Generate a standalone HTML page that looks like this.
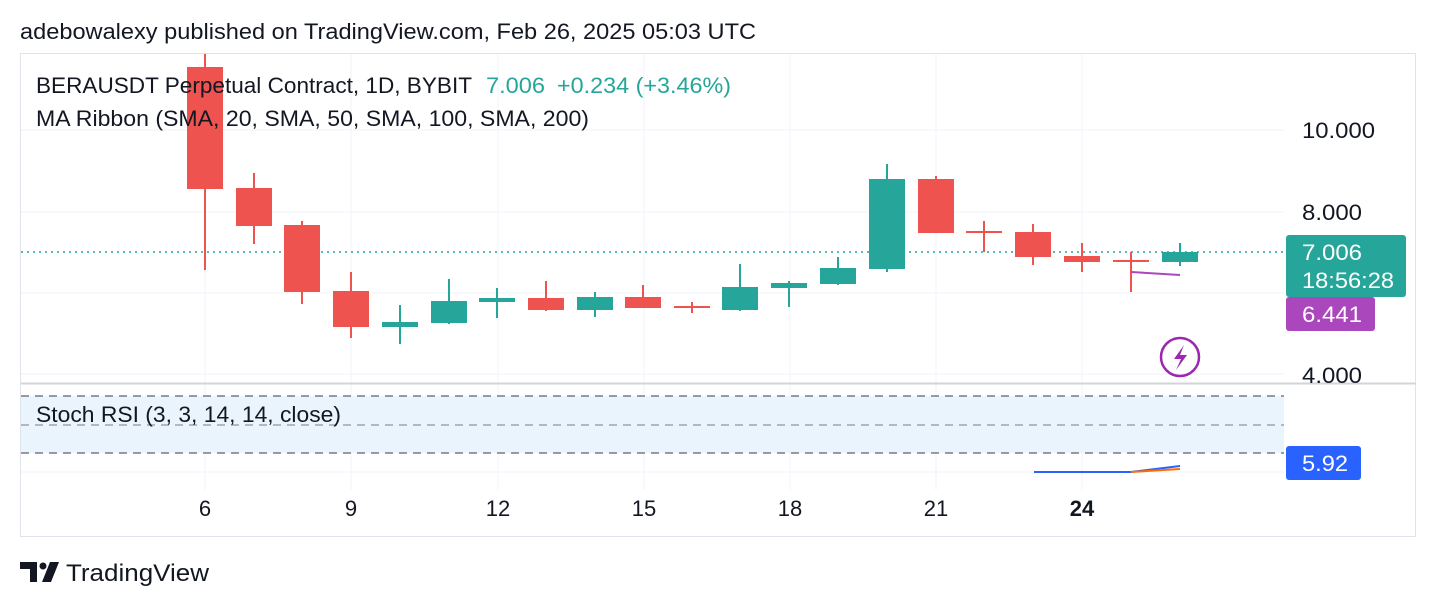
<!DOCTYPE html>
<html><head><meta charset="utf-8"><style>
body{margin:0;background:#fff;width:1436px;height:606px;overflow:hidden;font-family:"Liberation Sans",Arial,sans-serif}
</style></head><body>
<svg width="1436" height="606" xmlns="http://www.w3.org/2000/svg" font-family="Liberation Sans, Arial, sans-serif">
<text x="20" y="39" font-size="22" fill="#131722" textLength="736" lengthAdjust="spacingAndGlyphs">adebowalexy published on TradingView.com, Feb 26, 2025 05:03 UTC</text>
<rect x="20.5" y="53.5" width="1395" height="483" fill="none" stroke="#e0e3eb"/>
<g stroke="#f0f3fa" stroke-width="1">
<line x1="21" y1="130" x2="1284" y2="130"/><line x1="21" y1="212" x2="1284" y2="212"/><line x1="21" y1="293" x2="1284" y2="293"/><line x1="21" y1="374" x2="1284" y2="374"/><line x1="21" y1="472" x2="1284" y2="472"/>
<line x1="205" y1="54" x2="205" y2="490"/><line x1="351" y1="54" x2="351" y2="490"/><line x1="498" y1="54" x2="498" y2="490"/><line x1="644" y1="54" x2="644" y2="490"/><line x1="790" y1="54" x2="790" y2="490"/><line x1="936" y1="54" x2="936" y2="490"/><line x1="1082" y1="54" x2="1082" y2="490"/>
</g>
<line x1="21" y1="383.5" x2="1416" y2="383.5" stroke="#d1d4dc" stroke-width="2"/>
<rect x="21" y="396" width="1263" height="57" fill="#e9f4fd"/>
<g stroke="#787b86" stroke-width="1.5" stroke-dasharray="8,6"><line x1="21" y1="396" x2="1284" y2="396"/><line x1="21" y1="453" x2="1284" y2="453"/></g>
<line x1="21" y1="425" x2="1284" y2="425" stroke="#a0a4ad" stroke-width="1.5" stroke-dasharray="8,6"/>
<line x1="21" y1="252" x2="1284" y2="252" stroke="#26a69a" stroke-width="1.5" stroke-dasharray="2,4"/>
<g stroke-width="2">
<g stroke="#ef5350" fill="#ef5350">
<line x1="205" y1="54" x2="205" y2="270"/><rect x="187" y="67" width="36" height="122" stroke="none"/>
<line x1="254" y1="173" x2="254" y2="244"/><rect x="236" y="188" width="36" height="38" stroke="none"/>
<line x1="302" y1="221" x2="302" y2="304"/><rect x="284" y="225" width="36" height="67" stroke="none"/>
<line x1="351" y1="272" x2="351" y2="338"/><rect x="333" y="291" width="36" height="36" stroke="none"/>
<line x1="546" y1="281" x2="546" y2="311"/><rect x="528" y="298" width="36" height="12" stroke="none"/>
<line x1="643" y1="285" x2="643" y2="308"/><rect x="625" y="297" width="36" height="11" stroke="none"/>
<line x1="692" y1="302" x2="692" y2="313"/><rect x="674" y="306" width="36" height="2" stroke="none"/>
<line x1="936" y1="176" x2="936" y2="233"/><rect x="918" y="179" width="36" height="54" stroke="none"/>
<line x1="984" y1="221" x2="984" y2="252"/><rect x="966" y="231" width="36" height="2" stroke="none"/>
<line x1="1033" y1="224" x2="1033" y2="265"/><rect x="1015" y="232" width="36" height="25" stroke="none"/>
<line x1="1082" y1="243" x2="1082" y2="272"/><rect x="1064" y="256" width="36" height="6" stroke="none"/>
<line x1="1131" y1="252" x2="1131" y2="292"/><rect x="1113" y="260" width="36" height="2" stroke="none"/>
</g>
<g stroke="#26a69a" fill="#26a69a">
<line x1="400" y1="305" x2="400" y2="344"/><rect x="382" y="322" width="36" height="5" stroke="none"/>
<line x1="449" y1="279" x2="449" y2="324"/><rect x="431" y="301" width="36" height="22" stroke="none"/>
<line x1="497" y1="288" x2="497" y2="318"/><rect x="479" y="298" width="36" height="4" stroke="none"/>
<line x1="595" y1="292" x2="595" y2="317"/><rect x="577" y="297" width="36" height="13" stroke="none"/>
<line x1="740" y1="264" x2="740" y2="311"/><rect x="722" y="287" width="36" height="23" stroke="none"/>
<line x1="789" y1="281" x2="789" y2="307"/><rect x="771" y="283" width="36" height="5" stroke="none"/>
<line x1="838" y1="257" x2="838" y2="285"/><rect x="820" y="268" width="36" height="16" stroke="none"/>
<line x1="887" y1="164" x2="887" y2="272"/><rect x="869" y="179" width="36" height="90" stroke="none"/>
<line x1="1180" y1="243" x2="1180" y2="266"/><rect x="1162" y="252" width="36" height="10" stroke="none"/>
</g>
</g>
<line x1="1131" y1="272" x2="1180" y2="275" stroke="#ab47bc" stroke-width="2"/>
<polyline points="1034,472 1131,472 1180,466" fill="none" stroke="#2962ff" stroke-width="2"/>
<polyline points="1131,472 1180,469" fill="none" stroke="#ff6d00" stroke-width="2"/>
<circle cx="1180" cy="357" r="19" fill="none" stroke="#9c27b0" stroke-width="2.5"/>
<path d="M1184 345 L1174 359 L1181 359 L1176 370 L1187 355 L1180 355 Z" fill="#9c27b0"/>
<text x="36" y="93" font-size="22" fill="#131722" textLength="436" lengthAdjust="spacingAndGlyphs">BERAUSDT Perpetual Contract, 1D, BYBIT</text>
<text x="486" y="93" font-size="22" fill="#26a69a" textLength="59" lengthAdjust="spacingAndGlyphs">7.006</text>
<text x="557" y="93" font-size="22" fill="#26a69a" textLength="174" lengthAdjust="spacingAndGlyphs">+0.234 (+3.46%)</text>
<text x="36" y="126" font-size="22" fill="#131722" textLength="553" lengthAdjust="spacingAndGlyphs">MA Ribbon (SMA, 20, SMA, 50, SMA, 100, SMA, 200)</text>
<text x="36" y="422" font-size="22" fill="#131722" textLength="305" lengthAdjust="spacingAndGlyphs">Stoch RSI (3, 3, 14, 14, close)</text>
<g font-size="22" fill="#131722">
<text x="1302" y="138" textLength="73" lengthAdjust="spacingAndGlyphs">10.000</text><text x="1302" y="220" textLength="60" lengthAdjust="spacingAndGlyphs">8.000</text><text x="1302" y="383" textLength="60" lengthAdjust="spacingAndGlyphs">4.000</text>
</g>
<rect x="1286" y="235" width="120" height="62" rx="3" fill="#26a69a"/>
<text x="1302" y="260" font-size="22" fill="#fff" textLength="60" lengthAdjust="spacingAndGlyphs">7.006</text>
<text x="1302" y="288" font-size="22" fill="#fff" textLength="92" lengthAdjust="spacingAndGlyphs">18:56:28</text>
<rect x="1286" y="297" width="89" height="34" rx="3" fill="#ab47bc"/>
<text x="1302" y="322" font-size="22" fill="#fff" textLength="60" lengthAdjust="spacingAndGlyphs">6.441</text>
<rect x="1286" y="446" width="75" height="34" rx="3" fill="#2962ff"/>
<text x="1302" y="471" font-size="22" fill="#fff" textLength="46" lengthAdjust="spacingAndGlyphs">5.92</text>
<g font-size="22" fill="#131722" text-anchor="middle">
<text x="205" y="516">6</text><text x="351" y="516">9</text><text x="498" y="516">12</text><text x="644" y="516">15</text><text x="790" y="516">18</text><text x="936" y="516">21</text><text x="1082" y="516" font-weight="bold">24</text>
</g>
<g fill="#131722"><path d="M20 562h17v20h-7v-13h-10z"/><circle cx="43" cy="566" r="3.5"/><path d="M50 562h9l-8 20h-9z"/></g>
<text x="66" y="581" font-size="24" fill="#131722" textLength="143" lengthAdjust="spacingAndGlyphs">TradingView</text>
</svg>
</body></html>
